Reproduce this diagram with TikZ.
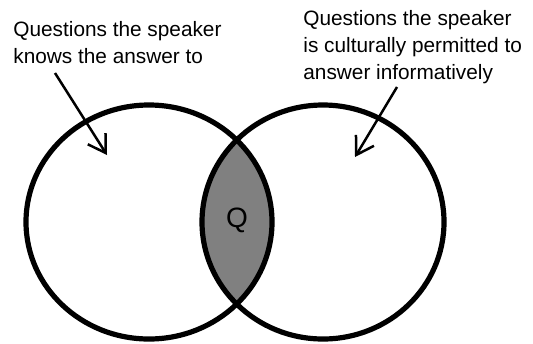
\documentclass[tikz,border=0pt]{standalone}
\usepackage{fontspec}
\setmainfont{Liberation Sans}
\usetikzlibrary{arrows.meta, positioning}

\begin{document}
\begin{tikzpicture}[
  x=0.5pt, y=-0.5pt,
  ring/.style={line width=2.6pt},
  caption/.style={align=left, anchor=north west, inner sep=0pt,
    font=\fontsize{10.4}{13.5}\selectfont},
  pointer/.style={-{Straight Barb[length=8.5pt, width=10.5pt, line width=1.25pt]}, line width=1.25pt}
]
\useasboundingbox (0,0) rectangle (533,343);
% shaded overlap
\begin{scope}
  \clip (149,222) ellipse [x radius=123, y radius=117];
  \fill[gray] (323,222) ellipse [x radius=121, y radius=117];
\end{scope}
\draw[ring] (149,222) ellipse [x radius=123, y radius=117];
\draw[ring] (323,222) ellipse [x radius=121, y radius=117];
\node (q) at (237,220) {\fontsize{14}{16}\selectfont Q};
\node[caption] (knows) at (13,21) {Questions the speaker\\knows the answer to};
\node[caption] (permit) at (303,10) {Questions the speaker\\is culturally permitted to\\answer informatively};
\coordinate (kfrom) at (55,73);
\coordinate (kto) at (107,155);
\coordinate (pfrom) at (397,87);
\coordinate (pto) at (355,157);
\draw[pointer] (kfrom) -- (kto);
\draw[pointer] (pfrom) -- (pto);
\end{tikzpicture}
\end{document}
